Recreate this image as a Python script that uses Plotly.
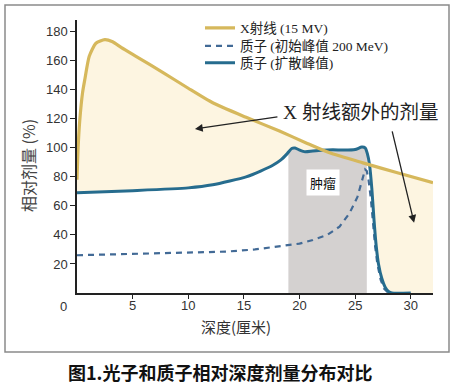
import numpy as np
import plotly.graph_objects as go

# ---- data ----
xray_depth = [0, 0.1, 0.25, 0.5, 0.7, 1.1, 1.7, 2.5, 3.2, 4, 5.3, 7.7, 10, 12.2, 15.2, 18.2, 20.7, 22.7, 25.7, 28.8, 32]
xray_dose = [78, 100, 119, 138, 147, 163, 172, 174.5, 173, 169, 163, 152, 141, 131, 121, 111.5, 103, 96.5, 89.6, 82.8, 76]

sobp_depth = [0, 5, 10, 12.2, 15.2, 16.5, 17.6, 18.3, 18.9, 19.3, 19.6, 20, 20.5, 21.2, 22, 23, 24, 25, 25.6, 25.9,
              26.1, 26.3, 26.5, 26.7, 26.9, 27.1, 27.4, 27.7, 28, 28.3, 30]
sobp_dose = [69, 70.5, 72.4, 74.5, 80, 84, 88, 91.5, 96, 99.5, 99.8, 98.5, 97.3, 97.8, 98.3, 98.6, 98.4, 98.8, 100.5, 100,
             96, 88, 72, 50, 32, 20, 10, 4, 1, 0, 0]

bragg_depth = [0, 5, 10, 13.4, 16, 18.2, 20, 21.2, 22.5, 23.6, 24.5, 25.2, 25.6, 25.9, 26.05, 26.2, 26.4, 26.6, 26.8, 27.0, 27.3, 27.6, 28]
bragg_dose = [26, 26.8, 27.8, 28.5, 30, 32, 34, 36.5, 40, 45.7, 55, 66, 78, 85, 84, 78, 66, 48, 32, 20, 9, 3, 0]

tumor_range = [19, 26.05]
x_ticks = [5, 10, 15, 20, 25, 30]
y_ticks = [20, 40, 60, 80, 100, 120, 140, 160, 180]

legend_names = ["X射线 (15 MV)", "质子 (初始峰值 200 MeV)", "质子 (扩散峰值)"]

GOLD = "rgb(214,184,92)"
CREAM = "rgba(253,244,222,0.9)"
BLUE = "rgb(38,108,142)"
DASH_BLUE = "rgb(66,106,150)"
GRAY = "rgb(212,209,208)"

fig = go.Figure()

# cream area between X-ray and spread-peak proton curve
base_x = list(sobp_depth) + [xray_depth[-1]]
base_y = list(sobp_dose) + [0]
fig.add_trace(go.Scatter(x=base_x, y=base_y, mode="lines", line=dict(width=0, color="rgba(0,0,0,0)"),
                         showlegend=False, hoverinfo="skip"))
fig.add_trace(go.Scatter(x=xray_depth, y=xray_dose, mode="lines", line=dict(width=0, color="rgba(0,0,0,0)"),
                         fill="tonexty", fillcolor=CREAM, showlegend=False, hoverinfo="skip"))

# tumour region (gray) under the spread-peak curve
sd = np.array(sobp_depth, dtype=float)
sv = np.array(sobp_dose, dtype=float)
mask = (sd > tumor_range[0]) & (sd < tumor_range[1])
tx = [tumor_range[0]] + list(sd[mask]) + [tumor_range[1]]
ty = [float(np.interp(tumor_range[0], sd, sv))] + list(sv[mask]) + [float(np.interp(tumor_range[1], sd, sv))]
fig.add_trace(go.Scatter(x=[tx[0]] + tx + [tx[-1]], y=[0] + ty + [0], mode="lines",
                         line=dict(width=0, color="rgba(0,0,0,0)"), fill="toself", fillcolor=GRAY,
                         showlegend=False, hoverinfo="skip"))

# curves
fig.add_trace(go.Scatter(x=bragg_depth, y=bragg_dose, mode="lines", name=legend_names[1], legend="legend2",
                         line=dict(color=DASH_BLUE, width=2.2, dash="6px,5px")))
fig.add_trace(go.Scatter(x=sobp_depth, y=sobp_dose, mode="lines", name=legend_names[2], legend="legend3",
                         line=dict(color=BLUE, width=3, shape="spline", smoothing=0.6)))
fig.add_trace(go.Scatter(x=xray_depth, y=xray_dose, mode="lines", name=legend_names[0], legend="legend",
                         line=dict(color=GOLD, width=3.2, shape="spline", smoothing=0.6)))

L, R, T, B = 77, 19, 20, 94
W, H = 452, 387
pw, ph = W - L - R, H - T - B

def px(xp):
    return (xp - L) / pw

def py(yp):
    return (H - B - yp) / ph

leg_font = dict(family="Liberation Serif, Noto Sans CJK SC", size=13.5, color="#222")

def leg(row_y):
    return dict(x=px(200), y=py(row_y), xanchor="left", yanchor="middle",
                bgcolor="rgba(0,0,0,0)", borderwidth=0, font=leg_font, itemwidth=30)

fig.update_layout(
    width=W, height=H,
    margin=dict(l=L, r=R, t=T, b=B, autoexpand=False),
    paper_bgcolor="white", plot_bgcolor="white",
    showlegend=True,
    legend=leg(28), legend2=leg(46), legend3=leg(63),
    xaxis=dict(range=[0, 32], tickvals=x_ticks, showgrid=False, zeroline=False,
               showline=True, linecolor="#222", linewidth=1.5, ticks="outside", ticklen=4,
               tickcolor="#222", ticklabelstandoff=-4,
               tickfont=dict(family="Liberation Sans, Arial", size=13, color="#333")),
    yaxis=dict(range=[0, 188], tickvals=y_ticks, showgrid=False, zeroline=False,
               showline=True, linecolor="#222", linewidth=1.5, ticks="outside", ticklen=5,
               tickcolor="#222", tickfont=dict(family="Liberation Sans, Arial", size=13, color="#333")),
    font=dict(family="Noto Sans CJK SC"),
)

# outer frame
fig.add_shape(type="rect", xref="paper", yref="paper", x0=px(5), x1=px(449), y0=py(352), y1=py(5),
              line=dict(color="#8a8a8a", width=1.5), fillcolor="rgba(0,0,0,0)", layer="above")

annos = [
    dict(x=px(63), y=py(306), text="0", font=dict(family="Liberation Sans, Arial", size=13, color="#333")),
    dict(x=px(28), y=py(166), text="相对剂量 (%)", textangle=-90,
         font=dict(family="Noto Sans CJK SC", size=16, color="#444")),
    dict(x=px(236), y=py(326), text="深度(厘米)", font=dict(family="Noto Sans CJK SC", size=15, color="#333")),
    dict(x=px(220), y=py(372), text="<b>图1.光子和质子相对深度剂量分布对比</b>",
         font=dict(family="Noto Sans CJK SC", size=18, color="#111")),
]
for a in annos:
    fig.add_annotation(xref="paper", yref="paper", showarrow=False, xanchor="center", yanchor="middle", **a)

fig.add_annotation(x=25.45, y=124, xref="x", yref="y", text="X 射线额外的剂量", showarrow=False,
                   xanchor="center", yanchor="middle",
                   font=dict(family="Liberation Serif, Noto Sans CJK SC", size=19.5, color="#222"))
fig.add_annotation(x=22.1, y=75.9, xref="x", yref="y", text="肿瘤", showarrow=False, bgcolor="white",
                   xanchor="center", yanchor="middle",
                   borderpad=3, font=dict(family="Noto Sans CJK SC", size=13, color="#111"))
fig.add_annotation(x=10.6, y=113, ax=18.15, ay=121.4, xref="x", yref="y", axref="x", ayref="y",
                   text="", showarrow=True, arrowhead=2, arrowsize=1.2, arrowwidth=1.3, arrowcolor="#222")
fig.add_annotation(x=30.3, y=48.3, ax=28.3, ay=112.4, xref="x", yref="y", axref="x", ayref="y",
                   text="", showarrow=True, arrowhead=2, arrowsize=1.2, arrowwidth=1.3, arrowcolor="#222")

fig.write_html("out.html", config={"displayModeBar": False},
               post_script="document.body.style.margin='0';document.body.style.overflow='hidden';")
